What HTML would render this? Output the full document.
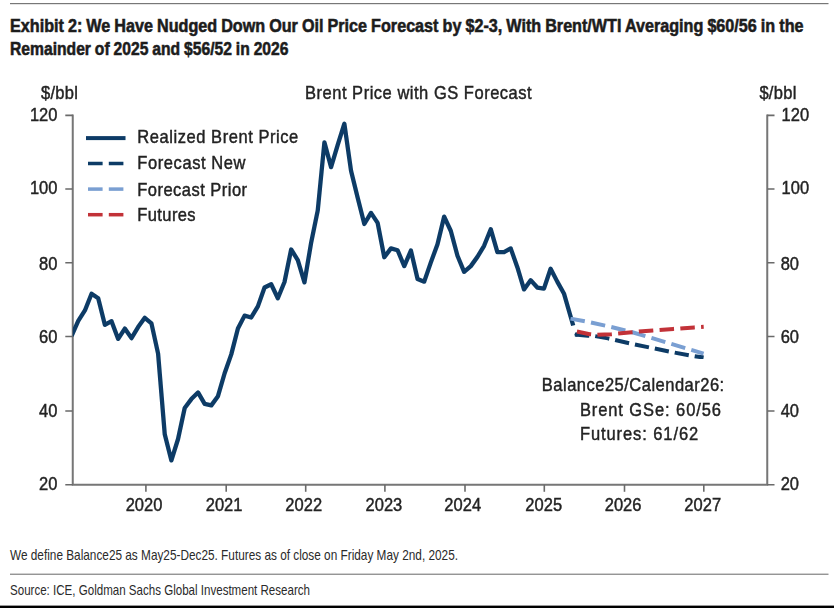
<!DOCTYPE html>
<html lang="en"><head><meta charset="utf-8"><title>Exhibit 2</title>
<style>html,body{margin:0;padding:0;background:#fff;width:834px;height:608px;overflow:hidden;font-family:"Liberation Sans",sans-serif}</style>
</head><body>
<svg width="834" height="608" viewBox="0 0 834 608" style="position:absolute;left:0;top:0">
<rect x="0" y="0" width="834" height="608" fill="#fff"/>
<defs><filter id="soft" x="-5%" y="-5%" width="110%" height="110%"><feGaussianBlur stdDeviation="0.5"/></filter><filter id="soft2" x="-2%" y="-2%" width="104%" height="104%"><feGaussianBlur stdDeviation="0.35"/></filter><clipPath id="plot"><rect x="72.75" y="100" width="694.5" height="384.75"/></clipPath></defs>
<rect x="10" y="3" width="818.5" height="1.2" fill="#777"/>
<g font-family="Liberation Sans, sans-serif" font-weight="bold" font-size="17.8" fill="#1c1c1c" stroke="#1c1c1c" stroke-width="0.55" word-spacing="-0.5">
<text x="10" y="31.8" textLength="793.5" lengthAdjust="spacingAndGlyphs">Exhibit 2: We Have Nudged Down Our Oil Price Forecast by $2-3, With Brent/WTI Averaging $60/56 in the</text>
<text x="10" y="54.7" textLength="278.5" lengthAdjust="spacingAndGlyphs">Remainder of 2025 and $56/52 in 2026</text>
</g>
<g stroke="#6a6a6a" stroke-width="1.6" fill="none" filter="url(#soft)">
<path d="M72.75,115.40 V484.80 H767.25 V115.40" stroke-width="2.0" stroke="#767676" stroke-linecap="square"/>
<path d="M65.3,115.40 H72.75 M767.25,115.40 H774.5 M767.25,484.80 H774.5 M65.3,484.80 H72.75"/>
<path d="M65.3,411.00 H72.75 M767.25,411.00 H774.5"/>
<path d="M65.3,336.50 H72.75 M767.25,336.50 H774.5"/>
<path d="M65.3,262.70 H72.75 M767.25,262.70 H774.5"/>
<path d="M65.3,189.00 H72.75 M767.25,189.00 H774.5"/>
<path d="M145.90,484.80 V491.80"/>
<path d="M226.20,484.80 V491.80"/>
<path d="M305.70,484.80 V491.80"/>
<path d="M384.90,484.80 V491.80"/>
<path d="M465.00,484.80 V491.80"/>
<path d="M544.30,484.80 V491.80"/>
<path d="M624.50,484.80 V491.80"/>
<path d="M703.80,484.80 V491.80"/>
</g>
<g font-family="Liberation Sans, sans-serif" font-size="16.5" fill="#222222" stroke="#222222" stroke-width="0.4" filter="url(#soft)">
<text transform="translate(57.40,490.30) scale(1,1.13)" text-anchor="end">20</text>
<text transform="translate(780.70,490.30) scale(1,1.13)">20</text>
<text transform="translate(57.40,416.50) scale(1,1.13)" text-anchor="end">40</text>
<text transform="translate(780.70,416.50) scale(1,1.13)">40</text>
<text transform="translate(57.40,343.10) scale(1,1.13)" text-anchor="end">60</text>
<text transform="translate(780.70,343.10) scale(1,1.13)">60</text>
<text transform="translate(57.40,269.70) scale(1,1.13)" text-anchor="end">80</text>
<text transform="translate(780.70,269.70) scale(1,1.13)">80</text>
<text transform="translate(57.40,194.45) scale(1,1.13)" text-anchor="end">100</text>
<text transform="translate(781.60,194.45) scale(1,1.13)">100</text>
<text transform="translate(57.40,121.05) scale(1,1.13)" text-anchor="end">120</text>
<text transform="translate(781.60,121.05) scale(1,1.13)">120</text>
<text transform="translate(144.00,511.10) scale(1,1.13)" text-anchor="middle">2020</text>
<text transform="translate(224.10,511.10) scale(1,1.13)" text-anchor="middle">2021</text>
<text transform="translate(303.70,511.10) scale(1,1.13)" text-anchor="middle">2022</text>
<text transform="translate(383.90,511.10) scale(1,1.13)" text-anchor="middle">2023</text>
<text transform="translate(462.70,511.10) scale(1,1.13)" text-anchor="middle">2024</text>
<text transform="translate(543.70,511.10) scale(1,1.13)" text-anchor="middle">2025</text>
<text transform="translate(623.10,511.10) scale(1,1.13)" text-anchor="middle">2026</text>
<text transform="translate(702.70,511.10) scale(1,1.13)" text-anchor="middle">2027</text>
<text transform="translate(41.00,98.80) scale(1,1.13)" letter-spacing="0.3">$/bbl</text>
<text transform="translate(759.40,98.80) scale(1,1.13)" letter-spacing="0.3">$/bbl</text>
<text transform="translate(305.00,99.20) scale(1,1.13)" letter-spacing="0.52">Brent Price with GS Forecast</text>
<text transform="translate(137.30,142.90) scale(1,1.13)" letter-spacing="0.56">Realized Brent Price</text>
<text transform="translate(137.30,168.50) scale(1,1.13)" letter-spacing="0.59">Forecast New</text>
<text transform="translate(137.30,195.70) scale(1,1.13)" letter-spacing="0.48">Forecast Prior</text>
<text transform="translate(137.30,221.20) scale(1,1.13)" letter-spacing="0.4">Futures</text>
<text transform="translate(541.80,390.70) scale(1,1.13)" letter-spacing="0.5">Balance25/Calendar26:</text>
<text transform="translate(579.90,415.70) scale(1,1.13)" letter-spacing="0.91">Brent GSe: 60/56</text>
<text transform="translate(579.90,439.80) scale(1,1.13)" letter-spacing="0.92">Futures: 61/62</text>
</g>
<rect x="86" y="136.1" width="39.5" height="4.0" fill="#0b3b66" filter="url(#soft2)"/>
<rect x="88" y="161.75" width="14.6" height="3.5" fill="#0b3b66" filter="url(#soft2)"/>
<rect x="108.8" y="161.75" width="14.6" height="3.5" fill="#0b3b66" filter="url(#soft2)"/>
<rect x="88" y="187.35" width="14.6" height="3.5" fill="#7a9fd2" filter="url(#soft2)"/>
<rect x="108.8" y="187.35" width="14.6" height="3.5" fill="#7a9fd2" filter="url(#soft2)"/>
<rect x="88" y="212.95" width="14.6" height="3.5" fill="#c23238" filter="url(#soft2)"/>
<rect x="108.8" y="212.95" width="14.6" height="3.5" fill="#c23238" filter="url(#soft2)"/>
<polyline points="71.60,335.93 78.25,320.79 84.91,310.44 91.56,293.82 98.21,298.25 104.86,324.85 111.52,321.16 118.17,338.89 124.82,328.54 131.48,338.15 138.13,327.07 144.78,317.83 151.44,323.37 158.09,353.66 164.74,434.19 171.39,460.42 178.05,438.99 184.70,407.96 191.35,399.10 198.01,392.45 204.66,403.90 211.31,405.38 217.97,396.14 224.62,373.24 231.27,354.40 237.92,328.54 244.58,315.61 251.23,317.46 257.88,306.38 264.54,287.54 271.19,284.22 277.84,298.25 284.50,282.00 291.15,249.49 297.80,260.20 304.45,282.37 311.11,242.84 317.76,210.34 324.41,142.37 331.07,167.12 337.72,144.95 344.37,123.71 351.03,170.81 357.68,197.78 364.33,224.00 370.99,212.92 377.64,222.90 384.29,257.25 390.94,248.38 397.60,250.23 404.25,266.12 410.90,250.60 417.56,279.04 424.21,281.63 430.86,262.42 437.51,244.32 444.17,216.62 450.82,231.02 457.47,255.77 464.13,271.84 470.78,266.12 477.43,256.88 484.09,245.80 490.74,229.18 497.39,252.08 504.04,252.08 510.70,248.38 517.35,267.22 524.00,289.39 530.66,280.15 537.31,287.54 543.96,288.65 550.62,268.70 557.27,281.63 563.92,293.45 573.20,325.50" fill="none" stroke="#0b3b66" stroke-width="4.3" stroke-linejoin="round" stroke-linecap="butt" clip-path="url(#plot)" filter="url(#soft2)"/>
<g fill="none" stroke-width="4.0" stroke-linejoin="round" filter="url(#soft2)">
<polyline points="570.55,318.60 590.70,322.40 610.80,326.90 631.40,332.00 651.10,337.80 671.30,343.90 703.60,353.60" stroke="#7a9fd2" stroke-dasharray="14.5,6.3"/>
<circle cx="576.7" cy="334.6" r="2.2" fill="#0b3b66" stroke="none"/>
<polyline points="575.00,334.50 587.80,335.80 594.50,336.00 608.00,338.40 628.10,343.00 649.20,347.40 669.40,351.60 689.50,355.40 703.60,357.60" stroke="#0b3b66" stroke-dasharray="14.3,6.0"/>
<polyline points="576.90,331.50 589.70,334.20 596.50,334.90 611.40,334.20 631.90,332.20 653.00,330.40 673.20,328.90 694.30,327.40 703.70,326.80" stroke="#c23238" stroke-dasharray="14.5,6.3"/>
</g>
<g font-family="Liberation Sans, sans-serif" font-size="15" fill="#2a2a2a">
<text x="10" y="559.9" textLength="448" lengthAdjust="spacingAndGlyphs">We define Balance25 as May25-Dec25. Futures as of close on Friday May 2nd, 2025.</text>
<text x="10" y="594.8" textLength="300" lengthAdjust="spacingAndGlyphs">Source: ICE, Goldman Sachs Global Investment Research</text>
</g>
<rect x="10" y="573.6" width="818.5" height="1.3" fill="#8a8a8a"/>
<rect x="0" y="605.6" width="834" height="2.4" fill="#000"/>
</svg>
</body></html>
